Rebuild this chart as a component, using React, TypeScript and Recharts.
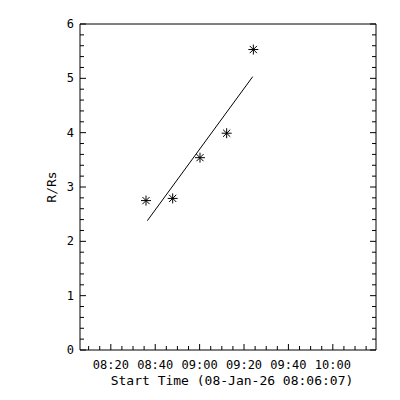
import { ComposedChart, Scatter, XAxis, YAxis } from "recharts"

// seconds after the start time
const startClock = "08:06:07"
const timeLabels = ["08:20", "08:40", "09:00", "09:20", "09:40", "10:00"]
const rLabels = [0, 1, 2, 3, 4, 5, 6]
const pointTimes = [1784, 2505, 3243, 3964, 4685]
const pointR = [2.75, 2.79, 3.54, 3.99, 5.53]
const fitTimes = [1820, 4667]
const fitR = [2.38, 5.03]

const X_MAX = 8000
const font = "'DejaVu Sans Mono', monospace"

const toSec = (s: string) => {
  const [h, m, sec] = s.split(":").map(Number)
  return h * 3600 + m * 60 + (sec || 0)
}
const start = toSec(startClock)
const majorX = timeLabels.map((t) => toSec(t) - start)
const xTicks: number[] = []
for (let t = majorX[0] % 300; t <= X_MAX; t += 300) xTicks.push(t)
const yTicks: number[] = []
for (let i = 0; i <= 30; i++) yTicks.push(Math.round(i * 2) / 10)

const points = pointTimes.map((t, i) => ({ t, r: pointR[i] }))
const fit = fitTimes.map((t, i) => ({ t, r: fitR[i] }))

const isMajorX = (v: number) => majorX.some((m) => Math.abs(m - v) < 1)
const isMajorY = (v: number) => Math.abs(v - Math.round(v)) < 0.01

const BottomTick = ({ x, y, payload }: any) => {
  const major = isMajorX(payload.value)
  const idx = majorX.findIndex((m) => Math.abs(m - payload.value) < 1)
  return (
    <g>
      <line x1={x} y1={y} x2={x} y2={y - (major ? 6 : 4)} stroke="#000" />
      {major && (
        <text x={x} y={y + 19} textAnchor="middle" fontSize={12} fontFamily={font} fill="#000">
          {timeLabels[idx]}
        </text>
      )}
    </g>
  )
}

const TopTick = ({ x, y, payload }: any) => (
  <line x1={x} y1={y} x2={x} y2={y + (isMajorX(payload.value) ? 6 : 4)} stroke="#000" />
)

const LeftTick = ({ x, y, payload }: any) => {
  const major = isMajorY(payload.value)
  return (
    <g>
      <line x1={x} y1={y} x2={x + (major ? 6 : 4)} y2={y} stroke="#000" />
      {major && rLabels.includes(Math.round(payload.value)) && (
        <text x={x - 6} y={y + 4} textAnchor="end" fontSize={12} fontFamily={font} fill="#000">
          {Math.round(payload.value)}
        </text>
      )}
    </g>
  )
}

const RightTick = ({ x, y, payload }: any) => (
  <line x1={x} y1={y} x2={x - (isMajorY(payload.value) ? 6 : 4)} y2={y} stroke="#000" />
)

const Asterisk = ({ cx, cy }: any) => {
  const s = 5
  const d = 3.6
  return (
    <g stroke="#000" strokeWidth={1}>
      <line x1={cx - s} y1={cy} x2={cx + s} y2={cy} />
      <line x1={cx} y1={cy - s} x2={cx} y2={cy + s} />
      <line x1={cx - d} y1={cy - d} x2={cx + d} y2={cy + d} />
      <line x1={cx - d} y1={cy + d} x2={cx + d} y2={cy - d} />
    </g>
  )
}

const axisCommon = {
  type: "number" as const,
  interval: 0 as const,
  tickSize: 0,
  tickMargin: 0,
  tickLine: false,
  axisLine: { stroke: "#000" },
  allowDataOverflow: true,
}

export default function App() {
  return (
    <div style={{ position: "absolute", left: 0, top: 0, width: 400, height: 400, background: "#fff" }}>
      <ComposedChart width={400} height={400} margin={{ top: 23, right: 23, bottom: 49, left: 79 }}>
        <XAxis {...axisCommon} dataKey="t" domain={[0, X_MAX]} ticks={xTicks} height={1} tick={<BottomTick />} />
        <XAxis
          {...axisCommon}
          xAxisId="top"
          orientation="top"
          domain={[0, X_MAX]}
          ticks={xTicks}
          height={1}
          tick={<TopTick />}
        />
        <YAxis {...axisCommon} dataKey="r" domain={[0, 6]} ticks={yTicks} width={1} tick={<LeftTick />} />
        <YAxis
          {...axisCommon}
          yAxisId="right"
          orientation="right"
          domain={[0, 6]}
          ticks={yTicks}
          width={1}
          tick={<RightTick />}
        />
        <Scatter data={fit} line={{ stroke: "#000", strokeWidth: 1 }} shape={() => <g />} isAnimationActive={false} />
        <Scatter data={points} shape={<Asterisk />} isAnimationActive={false} />
        <text x={232} y={385} textAnchor="middle" fontSize={13} fontFamily={font} fill="#000">
          Start Time (08-Jan-26 08:06:07)
        </text>
        <text
          x={56}
          y={187}
          textAnchor="middle"
          fontSize={13}
          fontFamily={font}
          fill="#000"
          transform="rotate(-90 56 187)"
        >
          R/Rs
        </text>
      </ComposedChart>
    </div>
  )
}
